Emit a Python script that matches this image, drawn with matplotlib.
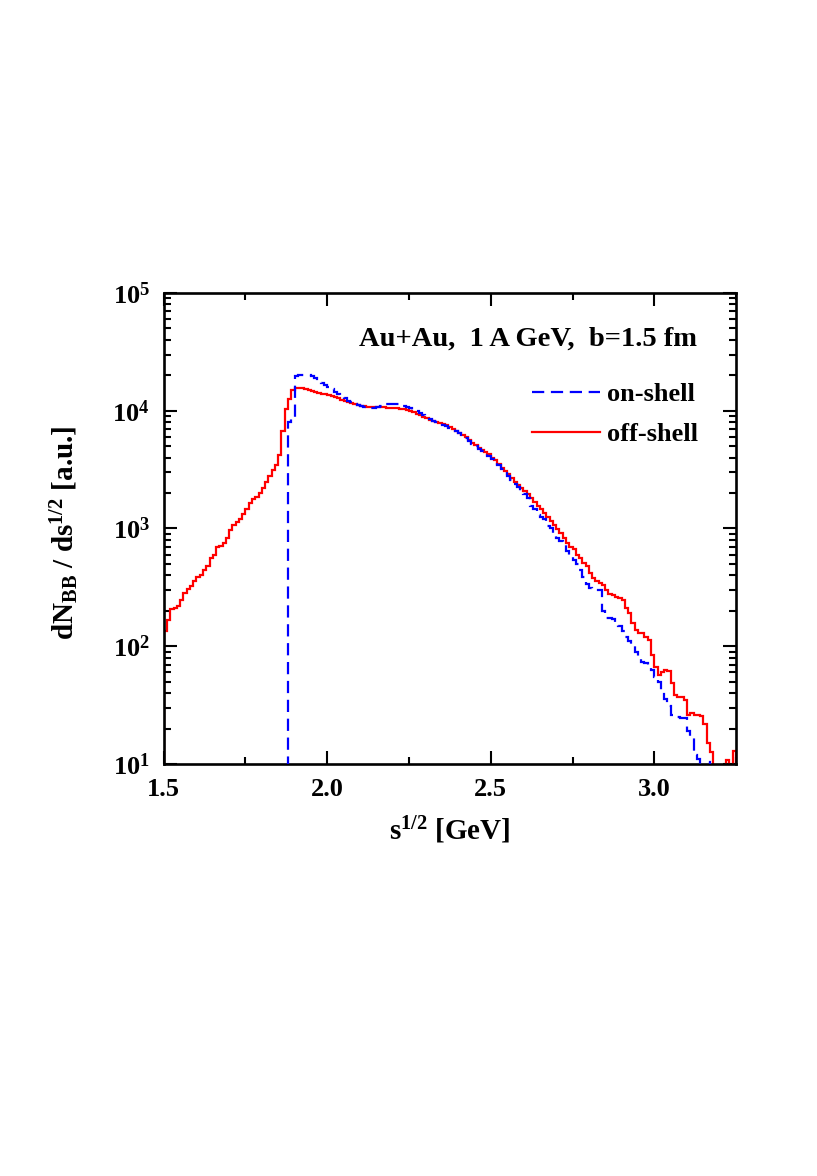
import numpy as np
import matplotlib
matplotlib.use("Agg")
import matplotlib.pyplot as plt
from matplotlib.ticker import FixedLocator, LogLocator, FuncFormatter, NullFormatter

plt.rcParams['font.family'] = ['Liberation Serif', 'DejaVu Serif']
plt.rcParams['font.weight'] = 'bold'
plt.rcParams['axes.labelweight'] = 'bold'
plt.rcParams['mathtext.fontset'] = 'custom'
plt.rcParams['mathtext.rm'] = 'Liberation Serif:bold'
plt.rcParams['mathtext.bf'] = 'Liberation Serif:bold'
plt.rcParams['mathtext.it'] = 'Liberation Serif:italic:bold'
plt.rcParams['mathtext.default'] = 'rm'

# ---- data ----
bin_width = 0.01
offshell_start = 1.50
onshell_start = 1.88

offshell = [
    134, 168, 207, 210, 218, 249, 284, 307, 323, 356,
    388, 406, 448, 478, 563, 601, 699, 716, 755, 833,
    968, 1062, 1132, 1210, 1316, 1452, 1656, 1766, 1862, 2014,
    2220, 2497, 2789, 3131, 3434, 4207, 6700, 10300, 12500, 15000,
    15500, 15700, 15500, 15240, 14960, 14720, 14500, 14250, 14000, 13800,
    13600, 13300, 13000, 12700, 12400, 12100, 11800, 11600, 11400, 11200,
    11000, 10950, 10850, 10800, 10800, 10750, 10700, 10650, 10600, 10550,
    10500, 10450, 10350, 10250, 10150, 10000, 9700, 9400, 9150, 8900,
    8650, 8400, 8150, 7950, 7800, 7650, 7500, 7250, 7000, 6750,
    6500, 6250, 5950, 5650, 5350, 5100, 4850, 4650, 4450, 4250,
    4000, 3800, 3500, 3250, 3050, 2880, 2700, 2500, 2350, 2200,
    2070, 1950, 1820, 1680, 1560, 1450, 1350, 1260, 1150, 1070,
    990, 910, 830, 755, 700, 670, 601, 563, 511, 478,
    419, 381, 356, 345, 330, 303, 280, 270, 264, 257,
    245, 211, 192, 157, 138, 129, 129, 121, 113, 85,
    67, 57, 61, 63, 62, 49, 38.6, 37.4, 37, 35,
    26, 27, 26, 26, 25.5, 22, 15, 12.7, 8, 6,
    5, 5, 10.8, 6, 13,
]

onshell = [
    8000, 8600, 19800, 20000, 20200, 20200, 20000, 19700, 18800, 18000,
    17200, 16500, 15800, 15200, 14500, 13900, 13300, 12700, 12200, 11800,
    11400, 11100, 10900, 10700, 10600, 10550, 10600, 10700, 10900, 11100,
    11300, 11400, 11400, 11300, 11200, 11000, 10800, 10500, 10200, 9900,
    9550, 9200, 8850, 8500, 8200, 8000, 7800, 7600, 7400, 7200,
    6950, 6700, 6450, 6150, 5850, 5550, 5250, 5000, 4750, 4550,
    4350, 4150, 3900, 3650, 3450, 3200, 3000, 2800, 2600, 2400,
    2250, 2100, 1950, 1800, 1550, 1450, 1300, 1250, 1200, 1050,
    1000, 920, 830, 780, 720, 640, 600, 540, 500, 440,
    390, 340, 310, 305, 303, 300, 200, 175, 174, 170,
    160, 150, 135, 120, 110, 100, 90, 78, 74, 72,
    70, 63, 55, 50, 42, 36, 31, 26, 26, 25,
    24.5, 24.5, 19, 17, 12, 11, 8, 6, 10.5, 7,
    5, 5, 5, 5, 5, 5, 5,
]

x_ticks = [1.5, 2.0, 2.5, 3.0]
x_tick_labels = ['1.5', '2.0', '2.5', '3.0']
labels = ['on-shell', 'off-shell']
title_text = 'Au+Au,  1 A GeV,  b=1.5 fm'

off_edges = offshell_start + bin_width * np.arange(len(offshell) + 1)
on_edges = onshell_start + bin_width * np.arange(len(onshell) + 1)

# ---- figure ----
fig = plt.figure(figsize=(8.17, 11.76), dpi=100)
ax = fig.add_axes([0.2004, 0.3503, 0.7005, 0.4006])

ax.stairs(onshell, on_edges, baseline=1, color='#0000ff', lw=1.6,
          linestyle=(0, (5.5, 3)), label=labels[0], zorder=3)
ax.stairs(offshell, off_edges, baseline=1, color='#ff0000', lw=1.6,
          label=labels[1], zorder=2)

ax.set_yscale('log')
ax.set_xlim(1.5, 3.25)
ax.set_ylim(10, 1e5)

ax.xaxis.set_major_locator(FixedLocator(x_ticks))
ax.set_xticklabels(x_tick_labels)
ax.xaxis.set_minor_locator(FixedLocator([1.75, 2.25, 2.75, 3.25]))
ax.yaxis.set_major_locator(LogLocator(base=10, numticks=10))
ax.yaxis.set_minor_locator(LogLocator(base=10, subs=np.arange(2, 10), numticks=20))
ax.yaxis.set_major_formatter(FuncFormatter(lambda v, p: r'$10^{%d}$' % int(round(np.log10(v)))))
ax.yaxis.set_minor_formatter(NullFormatter())

for s in ax.spines.values():
    s.set_linewidth(1.9)
ax.tick_params(which='both', direction='in', top=True, right=True, width=1.5)
ax.tick_params(which='major', length=9.5)
ax.tick_params(which='minor', length=5)
ax.tick_params(axis='x', which='major', labelsize=19, pad=10)
ax.tick_params(axis='y', which='major', labelsize=19, pad=10)

ax.set_xlabel(r's$^{1/2}$ [GeV]', fontsize=21)
ax.xaxis.set_label_coords(0.5, -0.108)
ax.set_ylabel(r'dN$_{BB}$ / ds$^{1/2}$ [a.u.]', fontsize=21)
ax.yaxis.set_label_coords(-0.145, 0.49)

ax.text(0.932, 0.902, title_text, transform=ax.transAxes, ha='right',
        va='center', fontsize=20.5)

ax.legend(loc='upper left', bbox_to_anchor=(0.643, 0.809), frameon=False,
          fontsize=19, handlelength=2.6, handletextpad=0.25,
          labelspacing=0.62, borderpad=0, borderaxespad=0)

fig.savefig('out.png', dpi=100)
